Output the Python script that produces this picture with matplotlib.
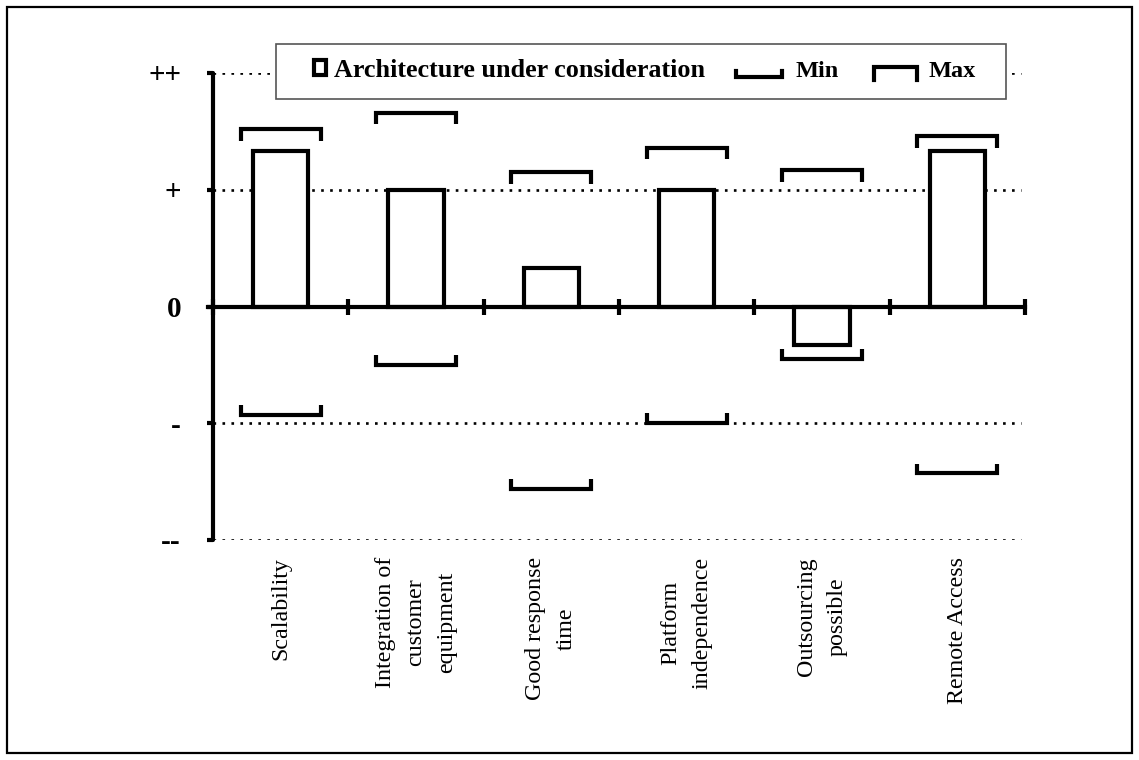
import matplotlib
matplotlib.use("Agg")
import matplotlib.pyplot as plt
from matplotlib.patches import Rectangle
from matplotlib.lines import Line2D
import matplotlib.transforms as mtransforms

# ---------------- data ----------------
categories = ["Scalability", "Integration of\ncustomer\nequipment", "Good response\ntime",
              "Platform\nindependence", "Outsourcing\npossible", "Remote Access"]
arch_values = [1.33, 1.0, 0.33, 1.0, -0.33, 1.33]
max_values = [1.52, 1.66, 1.15, 1.36, 1.17, 1.46]
min_values = [-0.93, -0.50, -1.56, -1.0, -0.45, -1.43]
ytick_values = [-2, -1, 0, 1, 2]
ytick_labels = ["--", "-", "0", "+", "++"]
legend_labels = ["Architecture under consideration", "Min", "Max"]

W, H = 1139, 760
fig = plt.figure(figsize=(W / 100, H / 100), dpi=100)
fig.patch.set_facecolor("white")

def fx(x):
    return x / W

def fy(y):
    return 1 - y / H

# axes placement: x 213..1025 px, y 73..540 px
ax = fig.add_axes([fx(213), fy(540), fx(1025) - fx(213), fy(73) - fy(540)])
ax.set_xlim(0, len(categories))
ax.set_ylim(-2, 2)
ax.set_facecolor("none")

serif = ["Liberation Serif", "DejaVu Serif"]
LW = 3.0

# spines
for s in ["top", "right"]:
    ax.spines[s].set_visible(False)
ax.spines["left"].set_linewidth(LW)
ax.spines["left"].set_capstyle("round")
ax.spines["bottom"].set_position(("data", 0))
ax.spines["bottom"].set_linewidth(LW)
ax.spines["bottom"].set_bounds(-0.04, len(categories))
ax.spines["bottom"].set_zorder(4)
ax.spines["left"].set_zorder(5)

# ticks
ax.set_xticks(range(0, len(categories) + 1))
ax.set_xticklabels([])
ax.tick_params(axis="x", direction="inout", length=11, width=LW, color="black")
ax.set_yticks(ytick_values)
ax.set_yticklabels(ytick_labels, fontfamily=serif, fontweight="bold", fontsize=21)
ax.tick_params(axis="y", direction="out", length=4, width=LW, pad=19, color="black")

# dotted gridlines
for v in ytick_values:
    if v != 0:
        ax.plot([0, len(categories) - 0.03], [v, v], linestyle=(0, (1, 2.4)),
                linewidth=1.9, color="black", zorder=1, dash_capstyle="butt")

centers = [i + 0.5 for i in range(len(categories))]
bar_w = 0.41
br_w = 0.59
tick_d = 0.10

# bars
ax.bar(centers, arch_values, width=bar_w, facecolor="white", edgecolor="black",
       linewidth=LW, zorder=3)

# max / min brackets
for c, mx, mn in zip(centers, max_values, min_values):
    ax.plot([c - br_w / 2, c - br_w / 2, c + br_w / 2, c + br_w / 2],
            [mx - tick_d, mx, mx, mx - tick_d], color="black", linewidth=LW,
            solid_joinstyle="miter", solid_capstyle="butt", zorder=3)
    ax.plot([c - br_w / 2, c - br_w / 2, c + br_w / 2, c + br_w / 2],
            [mn + 0.085, mn, mn, mn + 0.085], color="black", linewidth=LW,
            solid_joinstyle="miter", solid_capstyle="butt", zorder=3)

# category labels (rotated)
trans = mtransforms.blended_transform_factory(ax.transData, fig.transFigure)
for c, lab in zip(centers, categories):
    ax.text(c, fy(557), lab, transform=trans, rotation=90, ha="center", va="top",
            multialignment="center", fontfamily=serif, fontsize=17.3,
            linespacing=1.62)

# legend (drawn by hand)
fig.patches.append(Rectangle((fx(276), fy(99)), fx(1006) - fx(276), fy(44) - fy(99),
                             transform=fig.transFigure, facecolor="white",
                             edgecolor="#555555", linewidth=1.2, zorder=6))
fig.patches.append(Rectangle((fx(314), fy(75)), fx(326) - fx(314), fy(60) - fy(75),
                             transform=fig.transFigure, facecolor="white",
                             edgecolor="black", linewidth=3, zorder=7))
fig.text(fx(334), fy(77), legend_labels[0], fontfamily=serif, fontweight="bold",
         fontsize=18.8, ha="left", va="baseline", zorder=7)
fig.lines.append(Line2D([fx(736), fx(736), fx(782), fx(782)],
                        [fy(71), fy(77), fy(77), fy(71)], transform=fig.transFigure,
                        color="black", linewidth=LW, solid_joinstyle="miter", zorder=7))
fig.text(fx(796), fy(77), legend_labels[1], fontfamily=serif, fontweight="bold",
         fontsize=17.5, ha="left", va="baseline", zorder=7)
fig.lines.append(Line2D([fx(874), fx(874), fx(917), fx(917)],
                        [fy(80), fy(67), fy(67), fy(80)], transform=fig.transFigure,
                        color="black", linewidth=LW, solid_joinstyle="miter", zorder=7))
fig.text(fx(929), fy(77), legend_labels[2], fontfamily=serif, fontweight="bold",
         fontsize=17.5, ha="left", va="baseline", zorder=7)

# outer frame
fig.patches.append(Rectangle((fx(7), fy(753)), fx(1132) - fx(7), fy(7) - fy(753),
                             transform=fig.transFigure, facecolor="none",
                             edgecolor="black", linewidth=1.6, zorder=0))

fig.savefig("out.png", dpi=100)
